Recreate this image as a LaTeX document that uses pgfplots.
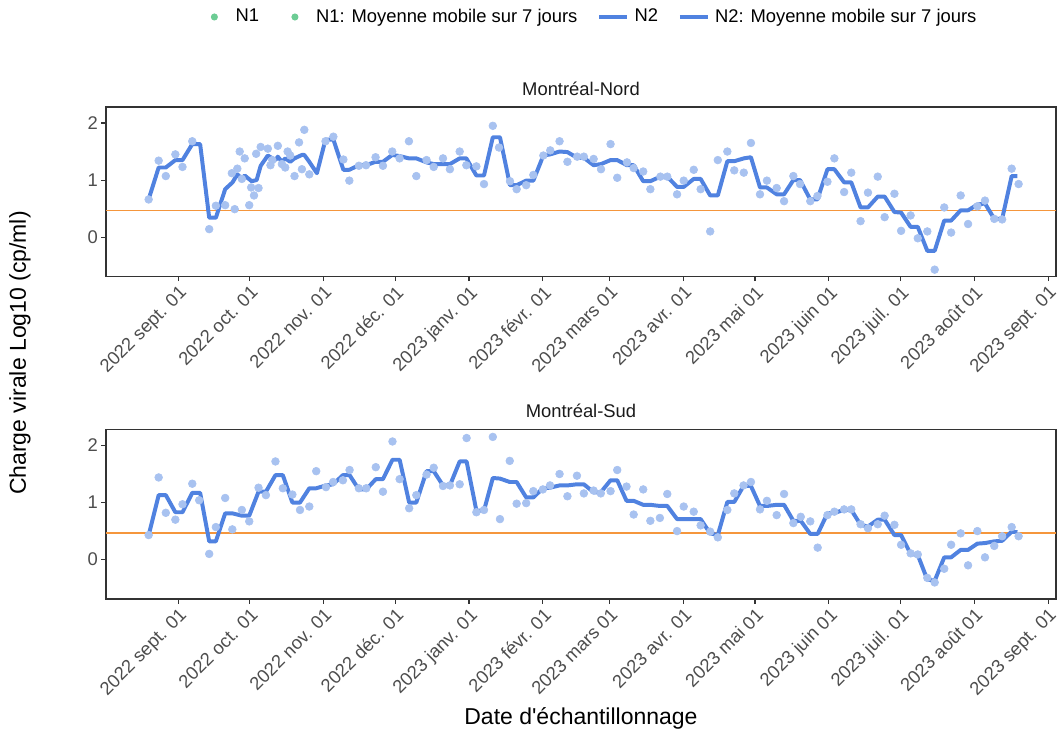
\documentclass[border=0pt]{standalone}
\usepackage{pgfplots}
\pgfplotsset{compat=1.18}
\usepackage{pgfplotstable}
\usepackage{fontspec}
\setmainfont{Liberation Sans}
\setsansfont{Liberation Sans}

\definecolor{nblue}{RGB}{80,130,224}
\definecolor{ptblue}{RGB}{168,194,240}
\definecolor{ngreen}{RGB}{108,204,148}
\definecolor{horange}{RGB}{245,150,60}
\definecolor{gray30}{HTML}{4D4D4D}
\definecolor{gray20}{HTML}{333333}
\definecolor{gray10}{HTML}{1A1A1A}

\newcommand\ticksize{\fontsize{8.8}{10.5}\selectfont}
\newcommand\titlesize{\fontsize{11}{13}\selectfont}

% x = days since 2022-09-01
\pgfplotstableread{
x y
-12.4 0.66
-8.2 1.34
-5.2 1.07
-1.2 1.45
1.8 1.23
5.9 1.68
13.0 0.14
15.8 0.55
19.7 0.56
22.5 1.12
23.7 0.49
24.8 1.20
25.8 1.50
26.7 1.02
27.9 1.38
29.8 0.56
30.6 0.87
31.8 0.73
32.7 1.46
33.7 0.86
34.6 1.58
37.6 1.55
38.7 1.26
39.5 1.35
41.8 1.60
43.5 1.28
44.9 1.22
45.9 1.50
47.0 1.43
48.8 1.07
50.7 1.66
51.9 1.19
52.9 1.88
55.0 1.10
61.8 1.68
65.1 1.76
69.3 1.36
71.8 0.99
75.8 1.25
78.8 1.26
82.8 1.40
85.9 1.25
89.8 1.50
92.9 1.38
96.8 1.68
99.9 1.07
104.2 1.35
107.2 1.23
111.1 1.38
114.0 1.19
118.1 1.50
120.9 1.26
125.1 1.24
128.3 0.93
132.0 1.95
134.6 1.57
139.2 0.98
142.0 0.84
146.0 0.91
149.0 1.09
153.2 1.43
156.1 1.52
160.0 1.68
163.3 1.32
167.4 1.41
170.2 1.41
174.3 1.37
177.4 1.19
181.4 1.63
184.2 1.04
188.3 1.31
191.1 1.21
195.1 1.15
198.1 0.84
202.3 1.06
205.2 1.06
209.3 0.75
212.1 0.99
216.3 1.18
219.2 0.84
223.2 0.10
226.4 1.35
230.4 1.50
233.3 1.17
237.3 1.13
240.3 1.65
244.1 0.75
247.0 0.99
251.1 0.86
254.2 0.63
258.1 1.07
260.9 0.93
265.2 0.63
268.2 0.72
272.4 0.97
275.3 1.38
279.4 0.79
282.4 1.13
286.3 0.28
289.4 0.78
293.5 1.06
296.4 0.35
300.5 0.76
303.3 0.11
307.3 0.38
310.3 -0.02
314.3 0.10
317.4 -0.57
321.4 0.52
324.3 0.08
328.3 0.73
331.4 0.23
335.3 0.54
338.5 0.64
342.4 0.32
345.7 0.31
349.7 1.20
352.6 0.93
}\nordpts

\pgfplotstableread{
x y
-12.2 0.69
-8.2 1.22
-5.2 1.22
-1.2 1.35
1.8 1.35
5.9 1.63
9.2 1.63
13.0 0.34
15.8 0.34
19.7 0.84
22.8 0.96
24.8 1.10
26.7 1.02
27.9 1.08
30.8 0.98
32.9 1.00
34.6 1.25
37.6 1.43
39.5 1.38
40.8 1.35
41.8 1.41
43.5 1.32
44.9 1.38
47.0 1.32
48.8 1.38
51.9 1.44
52.9 1.44
55.0 1.32
58.2 1.12
61.8 1.71
65.1 1.71
69.3 1.18
71.8 1.18
75.8 1.26
78.8 1.26
82.8 1.32
85.9 1.32
89.8 1.44
92.9 1.42
96.8 1.38
99.9 1.38
104.2 1.31
107.2 1.28
111.1 1.28
114.0 1.28
118.1 1.38
120.9 1.38
125.1 1.08
128.3 1.08
132.0 1.75
135.0 1.75
139.2 0.91
142.0 0.91
146.0 0.99
149.0 0.99
153.2 1.43
156.1 1.45
160.0 1.50
163.3 1.49
167.4 1.39
170.2 1.39
174.3 1.26
177.4 1.28
181.4 1.35
184.2 1.35
188.3 1.26
191.1 1.26
195.1 0.98
198.1 0.98
202.3 1.06
205.2 1.06
209.3 0.88
212.1 0.88
216.3 1.02
219.2 1.02
223.2 0.73
226.4 0.73
230.4 1.33
233.3 1.33
237.3 1.38
240.3 1.40
244.1 0.87
247.0 0.87
251.1 0.75
254.2 0.75
258.1 1.00
260.9 1.00
265.2 0.66
268.2 0.66
272.4 1.19
275.3 1.19
279.4 0.96
282.4 0.96
286.3 0.52
289.4 0.52
293.5 0.71
296.4 0.71
300.5 0.44
303.3 0.43
307.3 0.18
310.3 0.18
314.3 -0.24
317.4 -0.24
321.4 0.29
324.3 0.29
328.3 0.47
331.4 0.47
335.3 0.57
338.5 0.59
342.4 0.32
345.7 0.32
349.7 1.07
352.1 1.07
}\nordavg

\pgfplotstableread{
x y
-12.4 0.43
-8.2 1.44
-5.2 0.82
-1.2 0.70
1.8 0.97
5.9 1.33
8.8 1.04
13.0 0.10
15.8 0.57
19.7 1.08
22.7 0.53
26.7 0.87
29.8 0.67
33.7 1.26
36.8 1.13
40.8 1.72
43.9 1.25
47.9 1.14
51.1 0.87
55.0 0.93
57.9 1.55
62.0 1.27
65.0 1.36
69.1 1.39
71.9 1.57
75.8 1.25
78.9 1.25
82.9 1.62
85.9 1.19
89.9 2.07
92.9 1.41
96.9 0.90
99.9 1.13
104.2 1.49
107.2 1.61
111.1 1.29
114.0 1.30
118.1 1.32
121.0 2.13
125.1 0.83
128.3 0.87
132.0 2.15
135.0 0.71
139.1 1.73
142.0 0.98
146.0 0.99
149.0 1.20
153.0 1.23
156.0 1.30
160.0 1.50
163.3 1.11
167.3 1.47
170.2 1.16
174.3 1.21
177.3 1.16
181.4 1.20
184.2 1.57
188.1 1.28
191.1 0.79
195.1 1.23
198.1 0.68
202.1 0.73
205.2 1.15
209.3 0.50
212.1 0.93
216.3 0.84
219.2 0.60
223.2 0.49
226.4 0.39
230.4 0.87
233.3 1.16
237.2 1.30
240.3 1.36
244.1 0.88
247.0 1.03
251.1 0.78
254.2 1.15
258.1 0.64
261.2 0.75
265.2 0.67
268.3 0.21
272.4 0.78
275.3 0.84
279.4 0.88
282.4 0.88
286.3 0.62
289.4 0.55
293.5 0.62
296.4 0.77
300.5 0.61
303.3 0.26
307.3 0.11
310.3 0.09
314.3 -0.32
317.4 -0.40
321.4 -0.16
324.3 0.26
328.3 0.46
331.4 -0.10
335.3 0.50
338.5 0.04
342.4 0.24
345.7 0.41
349.7 0.57
352.6 0.41
}\sudpts

\pgfplotstableread{
x y
-12.2 0.46
-8.2 1.13
-5.2 1.13
-1.2 0.83
1.8 0.83
5.9 1.17
9.2 1.17
13.0 0.32
15.8 0.32
19.7 0.81
22.8 0.81
26.7 0.77
29.8 0.77
33.7 1.19
36.8 1.19
40.8 1.48
43.9 1.48
47.9 1.00
51.1 1.00
55.0 1.25
57.9 1.25
62.0 1.30
65.0 1.32
69.1 1.48
71.9 1.48
75.8 1.23
78.9 1.23
82.9 1.41
85.9 1.41
89.9 1.75
92.9 1.75
96.9 1.00
99.9 1.00
104.2 1.55
107.2 1.55
111.1 1.30
114.0 1.30
118.1 1.72
121.0 1.72
125.1 0.86
128.3 0.86
132.0 1.43
135.0 1.42
139.1 1.36
142.0 1.36
146.0 1.09
149.0 1.09
153.0 1.25
156.0 1.26
160.0 1.30
163.3 1.30
167.3 1.32
170.2 1.32
174.3 1.18
177.3 1.18
181.4 1.39
184.2 1.39
188.1 1.03
191.1 1.03
195.1 0.96
198.1 0.96
202.1 0.94
205.2 0.94
209.3 0.71
212.1 0.71
216.3 0.71
219.2 0.71
223.2 0.46
226.4 0.43
230.4 1.01
233.3 1.01
237.2 1.29
240.3 1.29
244.1 0.94
247.0 0.94
251.1 0.96
254.2 0.96
258.1 0.68
261.2 0.68
265.2 0.45
268.3 0.45
272.4 0.81
275.3 0.82
279.4 0.87
282.4 0.87
286.3 0.61
289.4 0.58
293.5 0.70
296.4 0.70
300.5 0.43
303.3 0.43
307.3 0.10
310.3 0.08
314.3 -0.35
317.4 -0.37
321.4 0.04
324.3 0.04
328.3 0.17
331.4 0.17
335.3 0.28
338.5 0.29
342.4 0.32
345.7 0.33
349.7 0.49
352.1 0.48
}\sudavg

\pgfplotsset{panel/.style={
  scale only axis, width=454.58pt, height=81.11pt,
  xmin=-30.3, xmax=368.3, ymin=-0.69, ymax=2.28,
  axis line style={draw=gray20, line width=0.6pt},
  xtick={0,30,61,91,122,153,181,212,242,273,303,334,365},
  xticklabels={2022 sept. 01,2022 oct. 01,2022 nov. 01,2022 déc. 01,2023 janv. 01,2023 févr. 01,2023 mars 01,2023 avr. 01,2023 mai 01,2023 juin 01,2023 juil. 01,2023 août 01,2023 sept. 01},
  ytick={0,1,2},
  xtick pos=left, ytick pos=left,
  tick align=outside, major tick length=2.2pt,
  tick style={draw=gray20, line width=0.5pt},
  /pgf/number format/assume math mode=true,
  ticklabel style={font=\ticksize, text=gray30},
  xticklabel style={rotate=45, anchor=north east, inner sep=1pt},
  yticklabel style={inner sep=1.5pt},
  clip=true,
  pts/.style={only marks, mark=*, mark size=1.85pt, color=ptblue,
    mark options={draw=ptblue, fill=ptblue, line width=0.3pt}},
}}

\begin{document}
\begin{tikzpicture}[x=1pt,y=1pt]
\useasboundingbox (0,0) rectangle (508.65,354.57);
\begin{axis}[panel, at={(50.72pt,222.26pt)}, anchor=south west,
  legend style={at={(0.5084,1.531)}, anchor=center, draw=none, fill=none,
    font=\ticksize, legend columns=-1, inner sep=0pt,
    nodes={inner xsep=2pt, inner ysep=1pt},
    /tikz/every even column/.append style={column sep=7pt}},
  legend cell align=left]
\addlegendimage{legend image code/.code={\path[draw=none] (0pt,0pt) -- (16.3pt,0pt); \fill[ngreen, draw=none] (8.15pt,0pt) circle (1.7pt);}}
\addlegendentry{N1}
\addlegendimage{legend image code/.code={\path[draw=none] (0pt,0pt) -- (16.3pt,0pt); \fill[ngreen, draw=none] (8.15pt,0pt) circle (1.7pt);}}
\addlegendentry{N1: Moyenne mobile sur 7 jours}
\addlegendimage{legend image code/.code={\path[draw=none] (0pt,0pt) -- (16.3pt,0pt); \draw[nblue, line width=1.9pt] (1.5pt,0pt) -- (14.8pt,0pt);}}
\addlegendentry{N2}
\addlegendimage{legend image code/.code={\path[draw=none] (0pt,0pt) -- (16.3pt,0pt); \draw[nblue, line width=1.9pt] (1.5pt,0pt) -- (14.8pt,0pt);}}
\addlegendentry{N2: Moyenne mobile sur 7 jours}
\addplot[forget plot, pts] table {\nordpts};
\addplot[forget plot, horange, line width=0.7pt] coordinates {(-30.3,0.47) (368.3,0.47)};
\addplot[forget plot, nblue, line width=1.9pt, line join=round, no markers] table {\nordavg};
\end{axis}
\begin{axis}[panel, at={(50.72pt,67.95pt)}, anchor=south west]
\addplot[pts] table {\sudpts};
\addplot[horange, line width=0.7pt] coordinates {(-30.3,0.47) (368.3,0.47)};
\addplot[nblue, line width=1.9pt, line join=round, no markers] table {\sudavg};
\end{axis}
\node[text=gray10, font=\ticksize] at (278.0,311.98) {Montréal-Nord};
\node[text=gray10, font=\ticksize] at (278.0,157.9) {Montréal-Sud};
\node[font=\titlesize, rotate=90] at (9.57,185.66) {Charge virale Log10 (cp/ml)};
\node[font=\titlesize] at (278.0,11.0) {Date d\textquotesingle échantillonnage};
\end{tikzpicture}
\end{document}
